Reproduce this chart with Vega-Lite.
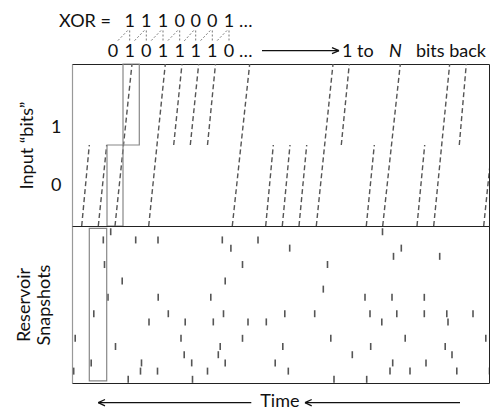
{
  "$schema": "https://vega.github.io/schema/vega-lite/v6.json",
  "padding": {"left": 14, "top": 0, "right": 0, "bottom": 0},
  "spacing": 0,
  "bounds": "flush",
  "config": {"font": "Lato", "view": {"stroke": "#222"}, "axis": {"grid": false}},
  "datasets": {
    "lines": [
      {"t0": 9.7, "t1": 17.3, "y0": 0, "y1": 1},
      {"t0": 26.3, "t1": 34.7, "y0": 0, "y1": 1},
      {"t0": 43, "t1": 60, "y0": 0, "y1": 2},
      {"t0": 76.7, "t1": 93.3, "y0": 0, "y1": 2},
      {"t0": 101.7, "t1": 110, "y0": 1, "y1": 2},
      {"t0": 118.3, "t1": 126.7, "y0": 1, "y1": 2},
      {"t0": 135.5, "t1": 143.5, "y0": 1, "y1": 2},
      {"t0": 160.3, "t1": 177.7, "y0": 0, "y1": 2},
      {"t0": 193.7, "t1": 201.3, "y0": 0, "y1": 1},
      {"t0": 210.3, "t1": 218, "y0": 0, "y1": 1},
      {"t0": 227, "t1": 234.7, "y0": 0, "y1": 1},
      {"t0": 244.3, "t1": 261, "y0": 0, "y1": 2},
      {"t0": 269.3, "t1": 277.3, "y0": 1, "y1": 2},
      {"t0": 294.3, "t1": 302.3, "y0": 0, "y1": 1},
      {"t0": 310.7, "t1": 328.3, "y0": 0, "y1": 2},
      {"t0": 345, "t1": 352.7, "y0": 0, "y1": 1},
      {"t0": 361.7, "t1": 377.7, "y0": 0, "y1": 2},
      {"t0": 387.3, "t1": 394.3, "y0": 1, "y1": 2},
      {"t0": 411.7, "t1": 420, "y0": 0, "y1": 1}
    ],
    "boxtop": [
      {"a": 35, "b": 51, "lo": 0, "hi": 1},
      {"a": 51, "b": 67.3, "lo": 1, "hi": 2}
    ],
    "boxbot": [
      {"a": 17.3, "b": 34.7, "lo": -0.41, "hi": 18.2}
    ],
    "ticks": [
      {"t": 38.7, "row": 0}, {"t": 310.5, "row": 0},
      {"t": 31.3, "row": 1}, {"t": 63.7, "row": 1}, {"t": 86, "row": 1}, {"t": 150.3, "row": 1}, {"t": 186, "row": 1},
      {"t": 158.9, "row": 2}, {"t": 217.7, "row": 2}, {"t": 329.3, "row": 2},
      {"t": 321.5, "row": 3}, {"t": 367.7, "row": 3},
      {"t": 32.5, "row": 4}, {"t": 170.5, "row": 4}, {"t": 255.5, "row": 4},
      {"t": 50.2, "row": 6}, {"t": 153.2, "row": 6},
      {"t": 251.3, "row": 7},
      {"t": 36, "row": 8}, {"t": 86.2, "row": 8}, {"t": 138.8, "row": 8}, {"t": 293, "row": 8}, {"t": 320, "row": 8}, {"t": 352.3, "row": 8},
      {"t": 21.8, "row": 10}, {"t": 96.3, "row": 10}, {"t": 151.5, "row": 10}, {"t": 212.8, "row": 10}, {"t": 242.7, "row": 10}, {"t": 298, "row": 10}, {"t": 324.8, "row": 10}, {"t": 352.3, "row": 10}, {"t": 374.8, "row": 10}, {"t": 401, "row": 10},
      {"t": 77, "row": 11}, {"t": 113.2, "row": 11}, {"t": 141.3, "row": 11}, {"t": 176, "row": 11}, {"t": 194.3, "row": 11}, {"t": 309.8, "row": 11}, {"t": 376, "row": 11},
      {"t": 3.2, "row": 13}, {"t": 109, "row": 13}, {"t": 170.5, "row": 13}, {"t": 258.8, "row": 13}, {"t": 333.2, "row": 13}, {"t": 413.8, "row": 13},
      {"t": 43.5, "row": 14}, {"t": 148.2, "row": 14}, {"t": 210.8, "row": 14}, {"t": 298.7, "row": 14}, {"t": 373.2, "row": 14},
      {"t": 112.2, "row": 15}, {"t": 146.3, "row": 15}, {"t": 280.3, "row": 15}, {"t": 380, "row": 15},
      {"t": 19.2, "row": 16}, {"t": 69.5, "row": 16}, {"t": 119.7, "row": 16}, {"t": 153.2, "row": 16}, {"t": 203.2, "row": 16}, {"t": 320.7, "row": 16}, {"t": 354, "row": 16},
      {"t": 1.7, "row": 17}, {"t": 68.5, "row": 17}, {"t": 85.5, "row": 17}, {"t": 135.5, "row": 17}, {"t": 216.3, "row": 17}, {"t": 318, "row": 17}, {"t": 338, "row": 17}, {"t": 384.8, "row": 17}, {"t": 417.5, "row": 17},
      {"t": 56.2, "row": 18}, {"t": 120.5, "row": 18}, {"t": 262, "row": 18}, {"t": 294.7, "row": 18}
    ],
    "links": [
      {"t0": 55.7, "y0": 30.5, "t1": 45, "y1": 41.5}, {"t0": 57.7, "y0": 30.5, "t1": 57.7, "y1": 41.5},
      {"t0": 72.3, "y0": 30.5, "t1": 61.7, "y1": 41.5}, {"t0": 74.3, "y0": 30.5, "t1": 74.3, "y1": 41.5},
      {"t0": 89, "y0": 30.5, "t1": 78.3, "y1": 41.5}, {"t0": 91, "y0": 30.5, "t1": 91, "y1": 41.5},
      {"t0": 105.7, "y0": 30.5, "t1": 95, "y1": 41.5}, {"t0": 107.7, "y0": 30.5, "t1": 107.7, "y1": 41.5},
      {"t0": 121.7, "y0": 30.5, "t1": 111.7, "y1": 41.5}, {"t0": 123.7, "y0": 30.5, "t1": 123.7, "y1": 41.5},
      {"t0": 138.3, "y0": 30.5, "t1": 127.7, "y1": 41.5}, {"t0": 140.3, "y0": 30.5, "t1": 140.3, "y1": 41.5},
      {"t0": 155, "y0": 30.5, "t1": 144.3, "y1": 41.5}, {"t0": 157, "y0": 30.5, "t1": 157, "y1": 41.5}
    ],
    "headarrow": [
      {"t0": 190, "y0": 50.7, "t1": 267, "y1": 50.7},
      {"t0": 267, "y0": 50.7, "t1": 260, "y1": 47.7},
      {"t0": 267, "y0": 50.7, "t1": 260, "y1": 53.7}
    ],
    "digits": [
      {"t": 57.7, "y": 27.3, "s": "1"}, {"t": 74.3, "y": 27.3, "s": "1"}, {"t": 91, "y": 27.3, "s": "1"}, {"t": 107.7, "y": 27.3, "s": "0"}, {"t": 123.7, "y": 27.3, "s": "0"}, {"t": 140.3, "y": 27.3, "s": "0"}, {"t": 157, "y": 27.3, "s": "1"},
      {"t": 41, "y": 57.3, "s": "0"}, {"t": 57.7, "y": 57.3, "s": "1"}, {"t": 74.3, "y": 57.3, "s": "0"}, {"t": 91, "y": 57.3, "s": "1"}, {"t": 107.7, "y": 57.3, "s": "1"}, {"t": 123.7, "y": 57.3, "s": "1"}, {"t": 140.3, "y": 57.3, "s": "1"}, {"t": 157, "y": 57.3, "s": "0"}
    ],
    "lefttext": [
      {"t": -13, "y": 27.3, "s": "XOR ="},
      {"t": 167, "y": 27.3, "s": "…"},
      {"t": 167, "y": 57.3, "s": "…"},
      {"t": 270, "y": 57.3, "s": "1 to"}
    ],
    "italtext": [
      {"t": 323.5, "y": 57.3, "s": "N"}
    ],
    "righttext": [
      {"t": 414, "y": 57.3, "s": "bits back"}
    ],
    "footarrows": [
      {"t0": 26.3, "y0": 19.7, "t1": 179.3, "y1": 19.7},
      {"t0": 26.3, "y0": 19.7, "t1": 33, "y1": 16.5},
      {"t0": 26.3, "y0": 19.7, "t1": 33, "y1": 22.9},
      {"t0": 233, "y0": 19.7, "t1": 388, "y1": 19.7},
      {"t0": 233, "y0": 19.7, "t1": 239.7, "y1": 16.5},
      {"t0": 233, "y0": 19.7, "t1": 239.7, "y1": 22.9}
    ],
    "foottext": [
      {"t": 207.9, "y": 24, "s": "Time"}
    ]
  },
  "vconcat": [
    {
      "width": 417, "height": 64,
      "view": {"stroke": null},
      "layer": [
        {
          "data": {"name": "links"},
          "mark": {"type": "rule", "strokeDash": [2, 2], "color": "#777", "strokeWidth": 1},
          "encoding": {
            "x": {"field": "t0", "type": "quantitative", "scale": {"domain": [0, 417], "nice": false, "zero": false}, "axis": null},
            "x2": {"field": "t1"},
            "y": {"field": "y0", "type": "quantitative", "scale": {"domain": [0, 64], "reverse": true, "nice": false, "zero": false}, "axis": null},
            "y2": {"field": "y1"}
          }
        },
        {
          "data": {"name": "headarrow"},
          "mark": {"type": "rule", "color": "#111", "strokeWidth": 1.3},
          "encoding": {
            "x": {"field": "t0", "type": "quantitative", "axis": null},
            "x2": {"field": "t1"},
            "y": {"field": "y0", "type": "quantitative", "axis": null},
            "y2": {"field": "y1"}
          }
        },
        {
          "data": {"name": "digits"},
          "mark": {"type": "text", "fontSize": 18, "color": "#111", "align": "center", "baseline": "alphabetic"},
          "encoding": {
            "x": {"field": "t", "type": "quantitative", "axis": null},
            "y": {"field": "y", "type": "quantitative", "axis": null},
            "text": {"field": "s"}
          }
        },
        {
          "data": {"name": "lefttext"},
          "mark": {"type": "text", "fontSize": 18, "color": "#111", "align": "left", "baseline": "alphabetic"},
          "encoding": {
            "x": {"field": "t", "type": "quantitative", "axis": null},
            "y": {"field": "y", "type": "quantitative", "axis": null},
            "text": {"field": "s"}
          }
        },
        {
          "data": {"name": "italtext"},
          "mark": {"type": "text", "fontSize": 18, "fontStyle": "italic", "color": "#111", "align": "center", "baseline": "alphabetic"},
          "encoding": {
            "x": {"field": "t", "type": "quantitative", "axis": null},
            "y": {"field": "y", "type": "quantitative", "axis": null},
            "text": {"field": "s"}
          }
        },
        {
          "data": {"name": "righttext"},
          "mark": {"type": "text", "fontSize": 18, "color": "#111", "align": "right", "baseline": "alphabetic"},
          "encoding": {
            "x": {"field": "t", "type": "quantitative", "axis": null},
            "y": {"field": "y", "type": "quantitative", "axis": null},
            "text": {"field": "s"}
          }
        }
      ]
    },
    {
      "width": 417, "height": 162,
      "layer": [
        {
          "data": {"name": "lines"},
          "mark": {"type": "rule", "strokeDash": [5, 3], "color": "#555", "strokeWidth": 1.4, "clip": true},
          "encoding": {
            "x": {"field": "t0", "type": "quantitative", "scale": {"domain": [0, 417], "nice": false, "zero": false}, "axis": null},
            "x2": {"field": "t1"},
            "y": {"field": "y0", "type": "quantitative", "scale": {"domain": [0, 2], "nice": false, "zero": false},
                  "axis": {"values": [0.5, 1.22], "labelExpr": "datum.value > 1 ? '1' : '0'", "ticks": false, "domain": true, "domainColor": "#999", "domainWidth": 1.2, "grid": false,
                           "labelFontSize": 18, "labelColor": "#111", "labelPadding": 11,
                           "title": "Input “bits”", "titleFontSize": 18, "titleFontWeight": "normal", "titleColor": "#111", "titlePadding": 14}},
            "y2": {"field": "y1"}
          }
        },
        {
          "data": {"name": "boxtop"},
          "mark": {"type": "rect", "fillOpacity": 0, "stroke": "#888", "strokeWidth": 1.2},
          "encoding": {
            "x": {"field": "a", "type": "quantitative"},
            "x2": {"field": "b"},
            "y": {"field": "lo", "type": "quantitative"},
            "y2": {"field": "hi"}
          }
        }
      ]
    },
    {
      "width": 417, "height": 157,
      "layer": [
        {
          "data": {"name": "ticks"},
          "mark": {"type": "tick", "orient": "vertical", "size": 7, "thickness": 1.6, "color": "#555", "opacity": 1, "clip": true},
          "encoding": {
            "x": {"field": "t", "type": "quantitative", "scale": {"domain": [0, 417], "nice": false, "zero": false}, "axis": null},
            "y": {"field": "row", "type": "quantitative", "scale": {"domain": [-0.7, 18.45], "reverse": true, "nice": false, "zero": false},
                  "axis": {"labels": false, "ticks": false, "domain": true, "domainColor": "#999", "domainWidth": 1.2, "grid": false,
                           "title": ["Reservoir", "Snapshots"], "titleFontSize": 18, "titleFontWeight": "normal", "titleColor": "#111", "titleLineHeight": 20, "titlePadding": 19}}
          }
        },
        {
          "data": {"name": "boxbot"},
          "mark": {"type": "rect", "fillOpacity": 0, "stroke": "#888", "strokeWidth": 1.2},
          "encoding": {
            "x": {"field": "a", "type": "quantitative"},
            "x2": {"field": "b"},
            "y": {"field": "lo", "type": "quantitative"},
            "y2": {"field": "hi"}
          }
        }
      ]
    },
    {
      "width": 417, "height": 26,
      "view": {"stroke": null},
      "layer": [
        {
          "data": {"name": "footarrows"},
          "mark": {"type": "rule", "color": "#111", "strokeWidth": 1.3},
          "encoding": {
            "x": {"field": "t0", "type": "quantitative", "scale": {"domain": [0, 417], "nice": false, "zero": false}, "axis": null},
            "x2": {"field": "t1"},
            "y": {"field": "y0", "type": "quantitative", "scale": {"domain": [0, 26], "reverse": true, "nice": false, "zero": false}, "axis": null},
            "y2": {"field": "y1"}
          }
        },
        {
          "data": {"name": "foottext"},
          "mark": {"type": "text", "fontSize": 18, "color": "#111", "align": "center", "baseline": "alphabetic"},
          "encoding": {
            "x": {"field": "t", "type": "quantitative", "axis": null},
            "y": {"field": "y", "type": "quantitative", "axis": null},
            "text": {"field": "s"}
          }
        }
      ]
    }
  ]
}
